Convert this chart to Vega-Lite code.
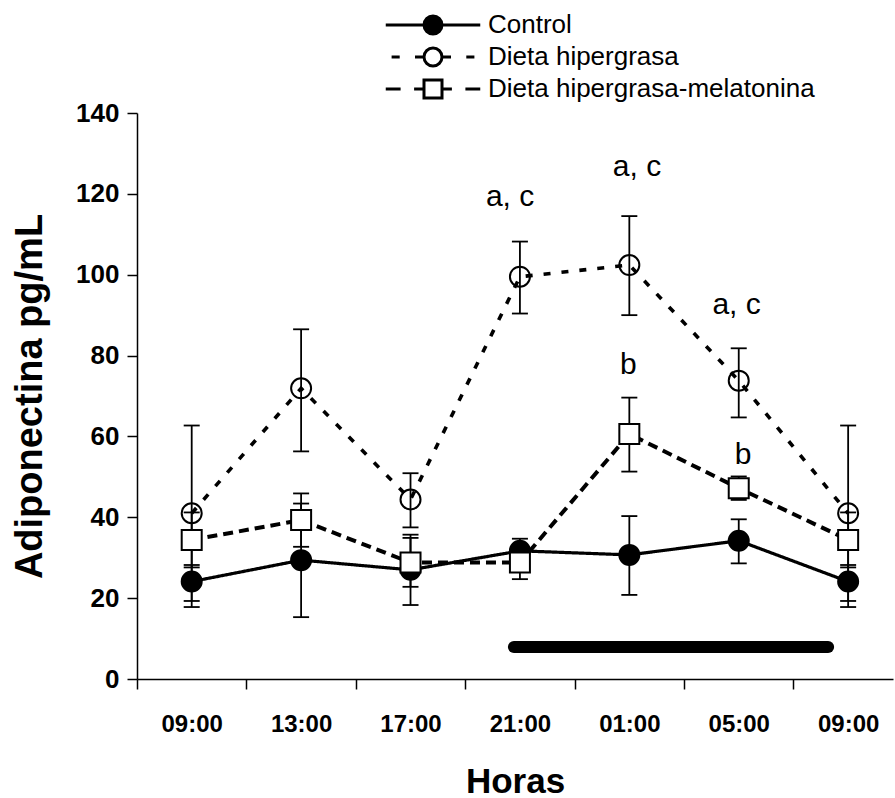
{
  "$schema": "https://vega.github.io/schema/vega-lite/v6.json",
  "width": 756,
  "height": 566,
  "autosize": {"type": "none"},
  "padding": {"left": 137, "top": 113, "right": 2, "bottom": 119},
  "background": "white",
  "config": {
    "view": {"stroke": null},
    "font": "Liberation Sans",
    "axis": {
      "grid": false,
      "domainColor": "black",
      "tickColor": "black",
      "labelColor": "black",
      "titleColor": "black",
      "domainWidth": 1.5,
      "tickWidth": 1.5,
      "labelFont": "Liberation Sans",
      "labelFontWeight": "bold",
      "titleFont": "Liberation Sans",
      "titleFontWeight": "bold"
    }
  },
  "resolve": {"scale": {"shape": "independent", "fill": "independent"}},
  "datasets": {
    "d": [
      {"serie": "Control", "idx": 0, "hora": "09:00", "media": 24.1, "lo": 17.8, "hi": 28.2},
      {"serie": "Control", "idx": 1, "hora": "13:00", "media": 29.4, "lo": 15.3, "hi": 43.4},
      {"serie": "Control", "idx": 2, "hora": "17:00", "media": 27.0, "lo": 18.3, "hi": 35.7},
      {"serie": "Control", "idx": 3, "hora": "21:00", "media": 31.7, "lo": 28.7, "hi": 34.7},
      {"serie": "Control", "idx": 4, "hora": "01:00", "media": 30.7, "lo": 20.8, "hi": 40.3},
      {"serie": "Control", "idx": 5, "hora": "05:00", "media": 34.2, "lo": 28.6, "hi": 39.5},
      {"serie": "Control", "idx": 6, "hora": "09:00", "media": 24.1, "lo": 17.8, "hi": 28.2},
      {"serie": "Dieta hipergrasa-melatonina", "idx": 0, "hora": "09:00", "media": 34.4, "lo": 27.6, "hi": 41.2},
      {"serie": "Dieta hipergrasa-melatonina", "idx": 1, "hora": "13:00", "media": 39.3, "lo": 32.7, "hi": 45.9},
      {"serie": "Dieta hipergrasa-melatonina", "idx": 2, "hora": "17:00", "media": 28.8, "lo": 22.8, "hi": 34.9},
      {"serie": "Dieta hipergrasa-melatonina", "idx": 3, "hora": "21:00", "media": 28.8, "lo": 24.7, "hi": 32.9},
      {"serie": "Dieta hipergrasa-melatonina", "idx": 4, "hora": "01:00", "media": 60.6, "lo": 51.3, "hi": 69.6},
      {"serie": "Dieta hipergrasa-melatonina", "idx": 5, "hora": "05:00", "media": 47.2, "lo": 44.3, "hi": 50.1},
      {"serie": "Dieta hipergrasa-melatonina", "idx": 6, "hora": "09:00", "media": 34.4, "lo": 27.6, "hi": 41.2},
      {"serie": "Dieta hipergrasa", "idx": 0, "hora": "09:00", "media": 41.0, "lo": 19.3, "hi": 62.7},
      {"serie": "Dieta hipergrasa", "idx": 1, "hora": "13:00", "media": 71.9, "lo": 56.3, "hi": 86.5},
      {"serie": "Dieta hipergrasa", "idx": 2, "hora": "17:00", "media": 44.4, "lo": 37.5, "hi": 50.9},
      {"serie": "Dieta hipergrasa", "idx": 3, "hora": "21:00", "media": 99.5, "lo": 90.4, "hi": 108.2},
      {"serie": "Dieta hipergrasa", "idx": 4, "hora": "01:00", "media": 102.4, "lo": 90.0, "hi": 114.5},
      {"serie": "Dieta hipergrasa", "idx": 5, "hora": "05:00", "media": 73.8, "lo": 64.7, "hi": 81.8},
      {"serie": "Dieta hipergrasa", "idx": 6, "hora": "09:00", "media": 41.0, "lo": 19.3, "hi": 62.7}
    ],
    "ann": [
      {"idx": 2.91, "y": 119.2, "txt": "a, c"},
      {"idx": 4.07, "y": 126.7, "txt": "a, c"},
      {"idx": 4.98, "y": 92.5, "txt": "a, c"},
      {"idx": 3.99, "y": 77.7, "txt": "b"},
      {"idx": 5.04, "y": 55.4, "txt": "b"}
    ],
    "oscuridad": [
      {"inicio": 2.945, "fin": 5.817, "y": 7.9}
    ]
  },
  "layer": [
    {
      "data": {"name": "d"},
      "mark": {"type": "rule", "color": "black", "strokeWidth": 1.8},
      "encoding": {
        "x": {
          "field": "idx", "type": "quantitative",
          "scale": {"domain": [-0.5, 6.41], "nice": false, "zero": false},
          "axis": {
            "title": "Horas",
            "titleFontSize": 35,
            "titlePadding": 28,
            "values": [0, 1, 2, 3, 4, 5, 6],
            "labelExpr": "['09:00','13:00','17:00','21:00','01:00','05:00','09:00'][datum.value]",
            "labelFontSize": 24,
            "tickSize": 10,
            "tickOffset": -54.67,
            "labelOffset": 54.67,
            "labelPadding": 23,
            "labelFlush": false,
            "labelOverlap": false
          }
        },
        "y": {
          "field": "lo", "type": "quantitative",
          "scale": {"domain": [0, 140], "nice": false},
          "axis": {
            "title": "Adiponectina pg/mL",
            "titleFontSize": 38,
            "titlePadding": 26,
            "values": [0, 20, 40, 60, 80, 100, 120, 140],
            "labelFontSize": 26,
            "tickSize": 10,
            "labelPadding": 8
          }
        },
        "y2": {"field": "hi"}
      }
    },
    {
      "data": {"name": "d"},
      "mark": {"type": "tick", "orient": "horizontal", "color": "black", "size": 16, "thickness": 1.8, "opacity": 1},
      "encoding": {
        "x": {"field": "idx", "type": "quantitative"},
        "y": {"field": "lo", "type": "quantitative"}
      }
    },
    {
      "data": {"name": "d"},
      "mark": {"type": "tick", "orient": "horizontal", "color": "black", "size": 16, "thickness": 1.8, "opacity": 1},
      "encoding": {
        "x": {"field": "idx", "type": "quantitative"},
        "y": {"field": "hi", "type": "quantitative"}
      }
    },
    {
      "data": {"name": "d"},
      "mark": {"type": "line", "color": "black"},
      "encoding": {
        "x": {"field": "idx", "type": "quantitative"},
        "y": {"field": "media", "type": "quantitative"},
        "strokeDash": {
          "field": "serie", "type": "nominal", "legend": null,
          "scale": {"domain": ["Control", "Dieta hipergrasa", "Dieta hipergrasa-melatonina"], "range": [[1, 0], [7, 11], [10, 6]]}
        },
        "strokeWidth": {
          "field": "serie", "type": "nominal", "legend": null,
          "scale": {"domain": ["Control", "Dieta hipergrasa", "Dieta hipergrasa-melatonina"], "range": [3.2, 4, 1.8]}
        }
      }
    },
    {
      "data": {"name": "d"},
      "mark": {"type": "point", "stroke": "black", "strokeWidth": 2, "opacity": 1},
      "encoding": {
        "x": {"field": "idx", "type": "quantitative"},
        "y": {"field": "media", "type": "quantitative"},
        "shape": {
          "field": "serie", "type": "nominal", "legend": null,
          "scale": {"domain": ["Control", "Dieta hipergrasa", "Dieta hipergrasa-melatonina"], "range": ["circle", "circle", "square"]}
        },
        "fill": {
          "field": "serie", "type": "nominal", "legend": null,
          "scale": {"domain": ["Control", "Dieta hipergrasa", "Dieta hipergrasa-melatonina"], "range": ["black", "transparent", "white"]}
        },
        "size": {
          "field": "serie", "type": "nominal", "legend": null,
          "scale": {"domain": ["Control", "Dieta hipergrasa", "Dieta hipergrasa-melatonina"], "range": [400, 400, 484]}
        }
      }
    },
    {
      "data": {"name": "d"},
      "transform": [{"filter": "false"}],
      "mark": {"type": "point", "stroke": "black", "strokeWidth": 3, "opacity": 1, "size": 324},
      "encoding": {
        "x": {"field": "idx", "type": "quantitative"},
        "y": {"field": "media", "type": "quantitative"},
        "shape": {
          "field": "serie", "type": "nominal",
          "scale": {"domain": ["Control", "Dieta hipergrasa", "Dieta hipergrasa-melatonina"], "range": ["M-5.25,0H-1M1,0H5.25M-1,0A1,1,0,1,1,1,0A1,1,0,1,1,-1,0Z", "M-4.6,0H-3.7M-2,0H-1M1,0H2M3.7,0H4.6M-1,0A1,1,0,1,1,1,0A1,1,0,1,1,-1,0Z", "M-5.25,0H-3.6M-2.1,0H-1M1,0H2.1M3.6,0H5.25M-1,-1H1V1H-1Z"]},
          "legend": {
            "orient": "none",
            "legendX": 283,
            "legendY": -101,
            "title": null,
            "labelFont": "Liberation Sans",
            "labelFontSize": 26,
            "labelColor": "black",
            "labelLimit": 0,
            "labelOffset": 42,
            "symbolSize": 324,
            "symbolStrokeWidth": 3,
            "symbolOpacity": 1,
            "rowPadding": 2
          }
        },
        "fill": {
          "field": "serie", "type": "nominal",
          "scale": {"domain": ["Control", "Dieta hipergrasa", "Dieta hipergrasa-melatonina"], "range": ["black", "white", "white"]},
          "legend": {
            "orient": "none",
            "legendX": 283,
            "legendY": -101,
            "title": null,
            "labelFont": "Liberation Sans",
            "labelFontSize": 26,
            "labelColor": "black",
            "labelLimit": 0,
            "labelOffset": 42,
            "symbolSize": 324,
            "symbolStrokeWidth": 3,
            "symbolOpacity": 1,
            "rowPadding": 2
          }
        }
      }
    },
    {
      "data": {"name": "ann"},
      "mark": {"type": "text", "font": "Liberation Sans", "fontSize": 30, "color": "black", "baseline": "middle", "align": "center"},
      "encoding": {
        "x": {"field": "idx", "type": "quantitative"},
        "y": {"field": "y", "type": "quantitative"},
        "text": {"field": "txt"}
      }
    },
    {
      "data": {"name": "oscuridad"},
      "mark": {"type": "rule", "color": "black", "strokeWidth": 12, "strokeCap": "round"},
      "encoding": {
        "x": {"field": "inicio", "type": "quantitative"},
        "x2": {"field": "fin"},
        "y": {"field": "y", "type": "quantitative"}
      }
    }
  ]
}
